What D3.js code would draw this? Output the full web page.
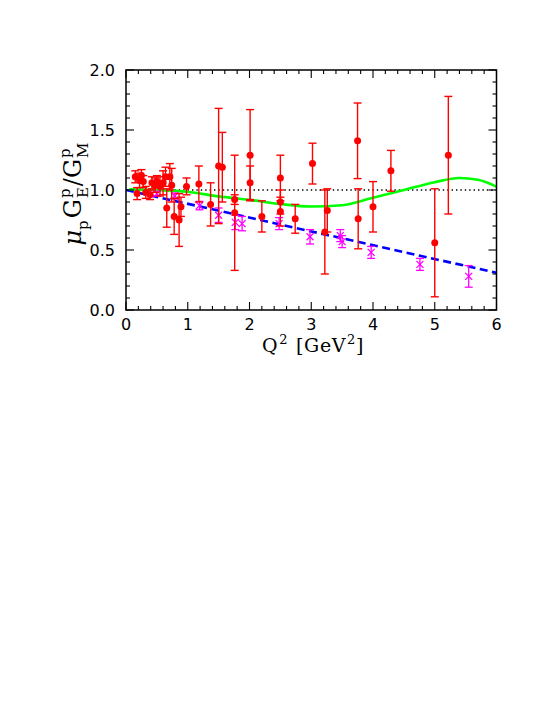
<!DOCTYPE html>
<html>
<head>
<meta charset="utf-8">
<script src="https://cdn.jsdelivr.net/npm/d3@7"></script>
<style>
  html, body { margin: 0; padding: 0; background: #fff; }
  svg { display: block; }
</style>
</head>
<body>
<svg id="chart" width="554" height="717"></svg>
<script>
// ---- data ----
// red points: Q2, ratio, error
const redQ2  = [0.15,0.18,0.22,0.25,0.28,0.32,0.39,0.42,0.47,0.50,0.55,0.60,0.64,0.66,0.71,0.74,0.78,0.86,0.89,0.98,1.18,1.37,1.50,1.56,1.76,1.76,2.01,2.01,2.20,2.50,2.50,2.50,2.74,3.02,3.22,3.26,3.75,3.76,4.00,4.29,5.00,5.22];
const redR   = [1.11,0.97,1.08,1.12,1.07,0.98,0.96,1.06,1.04,1.07,1.03,1.06,1.11,0.85,1.11,1.04,0.78,0.75,0.86,1.03,1.05,0.88,1.20,1.19,0.81,0.92,1.29,1.06,0.78,1.10,0.90,0.82,0.76,1.22,0.65,0.83,1.41,0.76,0.86,1.16,0.56,1.29];
const redErr = [0.05,0.05,0.06,0.05,0.05,0.05,0.04,0.05,0.06,0.05,0.08,0.10,0.08,0.16,0.11,0.14,0.15,0.22,0.08,0.07,0.15,0.18,0.48,0.29,0.48,0.04,0.38,0.14,0.13,0.19,0.10,0.12,0.12,0.17,0.35,0.18,0.315,0.25,0.21,0.17,0.45,0.49];

// magenta crosses: Q2, ratio, error
const magQ2  = [0.50,0.79,1.19,1.50,1.77,1.88,2.48,2.98,3.47,3.50,3.97,4.76,5.55];
const magR   = [0.97,0.95,0.87,0.79,0.73,0.72,0.72,0.61,0.62,0.57,0.48,0.38,0.28];
const magErr = [0.02,0.025,0.035,0.06,0.06,0.06,0.05,0.06,0.05,0.05,0.05,0.05,0.09];

// blue dashed line
const blueQ2 = [0, 6];
const blueR  = [1.0, 0.31];

// green curve
const greenQ2 = [0.05,0.5,1.0,1.5,2.0,2.5,3.0,3.5,4.0,4.5,5.0,5.4,5.7,6.0];
const greenR  = [1.005,1.0,0.985,0.947,0.918,0.883,0.862,0.873,0.935,1.0,1.065,1.1,1.085,1.028];

// reference line
const unityQ2 = [0, 6];
const unityR  = [1.0, 1.0];

const xTicks = [0,1,2,3,4,5,6];
const yTicks = [0.0,0.5,1.0,1.5,2.0];

// ---- drawing ----
const svg = d3.select("#chart");
const L = 126, R = 496.5, T = 70, B = 310;
const x = d3.scaleLinear().domain([0, 6]).range([L, R]);
const y = d3.scaleLinear().domain([0, 2]).range([B, T]);

const plot = svg.append("g");
svg.append("clipPath").attr("id","clip").append("rect")
  .attr("x", L).attr("y", T).attr("width", R-L).attr("height", B-T);

const lineGen = d3.line().x(d => x(d[0])).y(d => y(d[1]));
const curveGen = d3.line().x(d => x(d[0])).y(d => y(d[1])).curve(d3.curveMonotoneX);

const lines = plot.append("g").attr("clip-path","url(#clip)");
lines.append("path").datum(d3.zip(unityQ2, unityR)).attr("d", lineGen)
  .attr("fill","none").attr("stroke","#000").attr("stroke-width",1.4).attr("stroke-dasharray","1.4,3");
lines.append("path").datum(d3.zip(blueQ2, blueR)).attr("d", lineGen)
  .attr("fill","none").attr("stroke","#0000ff").attr("stroke-width",2.6).attr("stroke-dasharray","8,4.5");
lines.append("path").datum(d3.zip(greenQ2, greenR)).attr("d", curveGen)
  .attr("fill","none").attr("stroke","#00ff00").attr("stroke-width",2.6);

// magenta
const mag = d3.zip(magQ2, magR, magErr);
const mg = plot.append("g").attr("stroke","#ff00ff").attr("stroke-width",1.3).attr("fill","none");
mag.forEach(d => {
  const cx = x(d[0]), cy = y(d[1]), y1 = y(d[1]+d[2]), y2 = y(d[1]-d[2]);
  mg.append("line").attr("x1",cx).attr("x2",cx).attr("y1",y1).attr("y2",y2);
  mg.append("line").attr("x1",cx-4).attr("x2",cx+4).attr("y1",y1).attr("y2",y1);
  mg.append("line").attr("x1",cx-4).attr("x2",cx+4).attr("y1",y2).attr("y2",y2);
  mg.append("line").attr("x1",cx-3.5).attr("x2",cx+3.5).attr("y1",cy-3.5).attr("y2",cy+3.5);
  mg.append("line").attr("x1",cx-3.5).attr("x2",cx+3.5).attr("y1",cy+3.5).attr("y2",cy-3.5);
});

// red
const red = d3.zip(redQ2, redR, redErr);
const rg = plot.append("g");
red.forEach(d => {
  const cx = x(d[0]), cy = y(d[1]), y1 = y(d[1]+d[2]), y2 = y(d[1]-d[2]);
  const g = rg.append("g").attr("stroke","#ff0000").attr("stroke-width",1.4);
  g.append("line").attr("x1",cx).attr("x2",cx).attr("y1",y1).attr("y2",y2);
  g.append("line").attr("x1",cx-4).attr("x2",cx+4).attr("y1",y1).attr("y2",y1);
  g.append("line").attr("x1",cx-4).attr("x2",cx+4).attr("y1",y2).attr("y2",y2);
  rg.append("circle").attr("cx",cx).attr("cy",cy).attr("r",3.5).attr("fill","#ff0000");
});

// frame
svg.append("rect").attr("x",L).attr("y",T).attr("width",R-L).attr("height",B-T)
  .attr("fill","none").attr("stroke","#000").attr("stroke-width",1.5);

// ticks
const tg = svg.append("g").attr("stroke","#000").attr("stroke-width",1.1);
d3.range(0, 6.0001, 0.2).forEach(v => {
  const major = Math.abs(v - Math.round(v)) < 1e-6;
  const len = major ? 8 : 4;
  tg.append("line").attr("x1",x(v)).attr("x2",x(v)).attr("y1",B).attr("y2",B-len);
  tg.append("line").attr("x1",x(v)).attr("x2",x(v)).attr("y1",T).attr("y2",T+len);
});
d3.range(0, 2.0001, 0.1).forEach(v => {
  const major = Math.abs(v*2 - Math.round(v*2)) < 1e-6;
  const len = major ? 8 : 4;
  tg.append("line").attr("x1",L).attr("x2",L+len).attr("y1",y(v)).attr("y2",y(v));
  tg.append("line").attr("x1",R).attr("x2",R-len).attr("y1",y(v)).attr("y2",y(v));
});

// tick labels
const font = "'DejaVu Sans', sans-serif";
svg.append("g").selectAll("text").data(xTicks).join("text")
  .attr("x", d => x(d)).attr("y", 330).attr("text-anchor","middle")
  .attr("font-family", font).attr("font-size", 16).text(d => d);
svg.append("g").selectAll("text").data(yTicks).join("text")
  .attr("x", 115).attr("y", d => y(d) + 6).attr("text-anchor","end")
  .attr("font-family", font).attr("font-size", 16).text(d => d.toFixed(1));

// x title
const serif = "'DejaVu Serif', serif";
const xt = svg.append("text").attr("x", 313).attr("y", 352).attr("text-anchor","middle")
  .attr("font-family", serif).attr("font-size", 19).attr("letter-spacing", 0.6);
xt.append("tspan").text("Q");
xt.append("tspan").attr("font-size",13).attr("dy",-8).attr("dx",1).text("2");
xt.append("tspan").attr("dy",8).attr("dx",8).text("[GeV");
xt.append("tspan").attr("font-size",13).attr("dy",-8).attr("dx",1).text("2");
xt.append("tspan").attr("dy",8).text("]");

// y title (rotated)
const yt = svg.append("text").attr("transform","translate(81,194) rotate(-90)")
  .attr("text-anchor","middle").attr("font-family", serif).attr("font-size", 24);
yt.append("tspan").attr("font-style","italic").text("\u03bc");
yt.append("tspan").attr("font-size",15).attr("dy",7).text("p");
yt.append("tspan").attr("dy",-7).attr("dx",2).text("G");
yt.append("tspan").attr("font-size",15).attr("dy",-11).attr("dx",1).text("p");
yt.append("tspan").attr("font-size",15).attr("dy",18).attr("dx",-9.6).text("E");
yt.append("tspan").attr("dy",-7).attr("dx",1).text("/G");
yt.append("tspan").attr("font-size",15).attr("dy",-11).attr("dx",1).text("p");
yt.append("tspan").attr("font-size",15).attr("dy",18).attr("dx",-9.6).text("M");
</script>
</body>
</html>
